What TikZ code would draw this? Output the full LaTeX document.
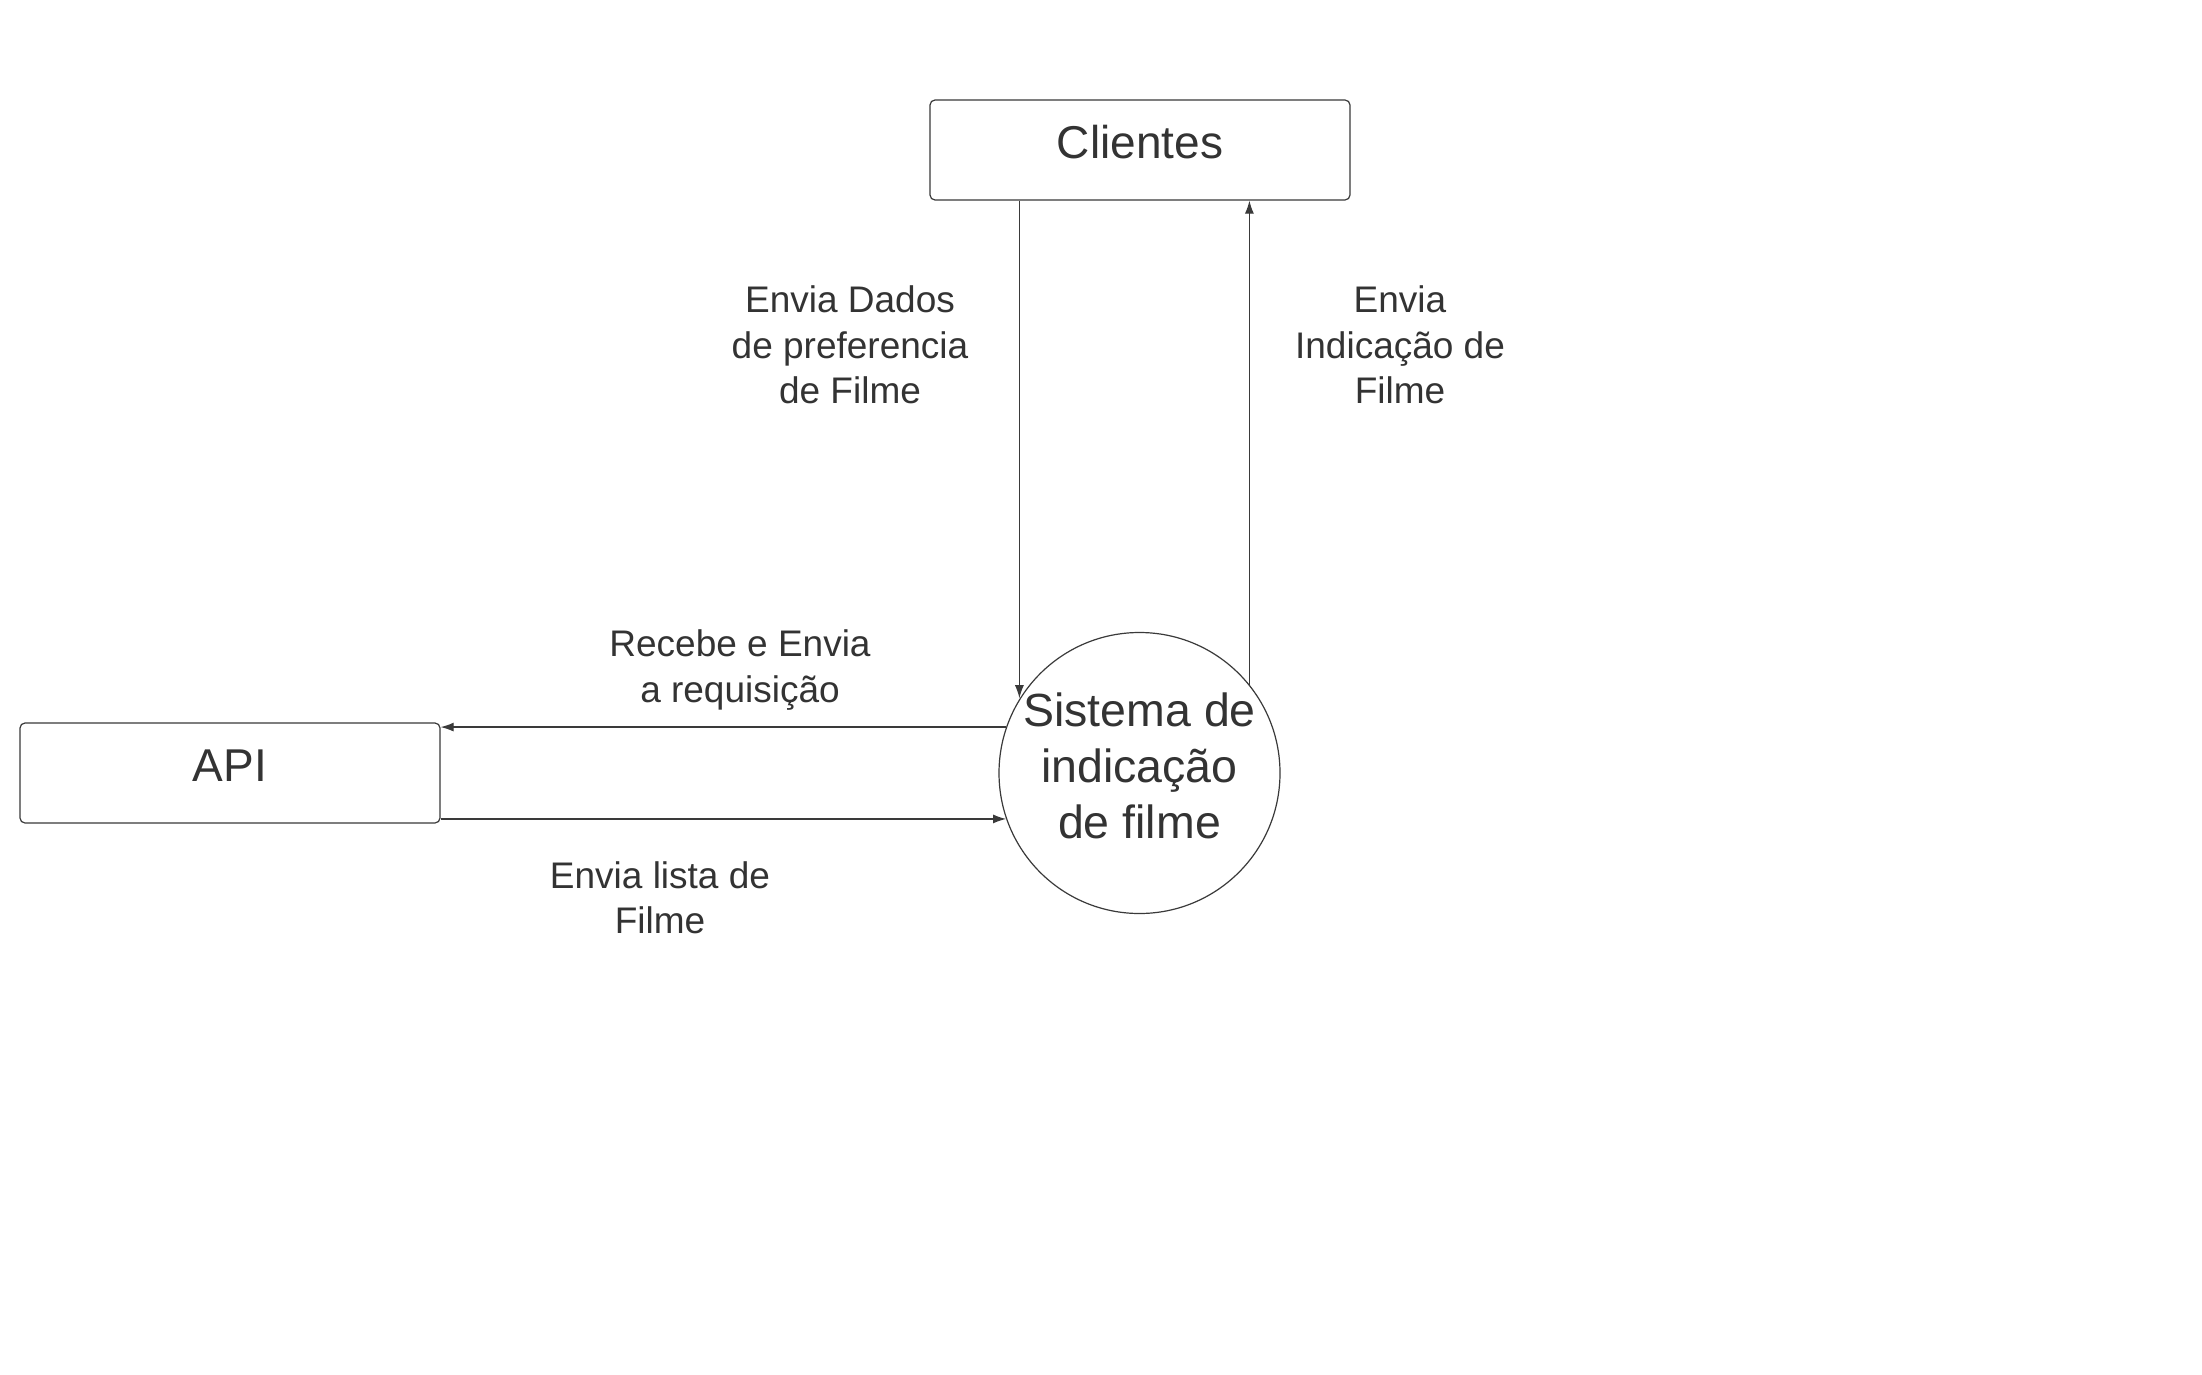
\documentclass[tikz,border=0pt]{standalone}
\usepackage{fontspec}
\setmainfont{Liberation Sans}
\usetikzlibrary{arrows.meta,calc}
\definecolor{ink}{HTML}{333333}
\definecolor{edge}{HTML}{3A3A3A}
\tikzset{
  ent/.style={draw=edge, line width=1.2pt, rounded corners=5pt, minimum width=420pt, minimum height=100pt, inner sep=0pt,
    text=ink, font=\fontsize{46}{56}\selectfont, text height=33pt, text depth=16pt},
  proc/.style={draw=edge, line width=1.2pt, circle, minimum size=281pt, inner sep=0pt},
  proctext/.style={align=center, text=ink, font=\fontsize{46.5}{56}\selectfont, inner sep=0pt},
  flow/.style={draw=edge, line width=1.2pt, -{Latex[length=13pt,width=9pt]}},
  lbl/.style={text=ink, align=center, font=\fontsize{37}{45.5}\selectfont, inner sep=0pt}
}
\begin{document}
\begin{tikzpicture}[x=1pt,y=-1pt]
\useasboundingbox[fill=white] (0,0) rectangle (2202,1375);
\node[ent] (cl) at (1140,150) {Clientes};
\node[ent] (api) at (230,773) {API};
\node[proc] (sys) at (1139.5,773) {};
\node[proctext] (syst) at ([yshift=7pt]sys.center) {Sistema de\\indicação\\de filme};
\coordinate (a) at ($(cl.south west)+(90,0)$);
\coordinate (b) at ($(cl.south west)+(320,0)$);
\draw[flow] (a) -- (a |- sys.148.3);
\draw[flow] (b |- sys.38.2) -- (b);
\draw[flow] (sys.161.3) -- (sys.161.3 -| api.east);
\draw[flow] (api.east |- sys.199.6) -- (sys.199.6);
\node[lbl] (l1) at (850,345) {Envia Dados\\de preferencia\\de Filme};
\node[lbl] (l2) at (1400,345) {Envia\\Indicação de\\Filme};
\node[lbl] (l3) at (740,670) {Recebe e Envia\\a requisição};
\node[lbl] (l4) at (660,898) {Envia lista de\\Filme};
\end{tikzpicture}
\end{document}
